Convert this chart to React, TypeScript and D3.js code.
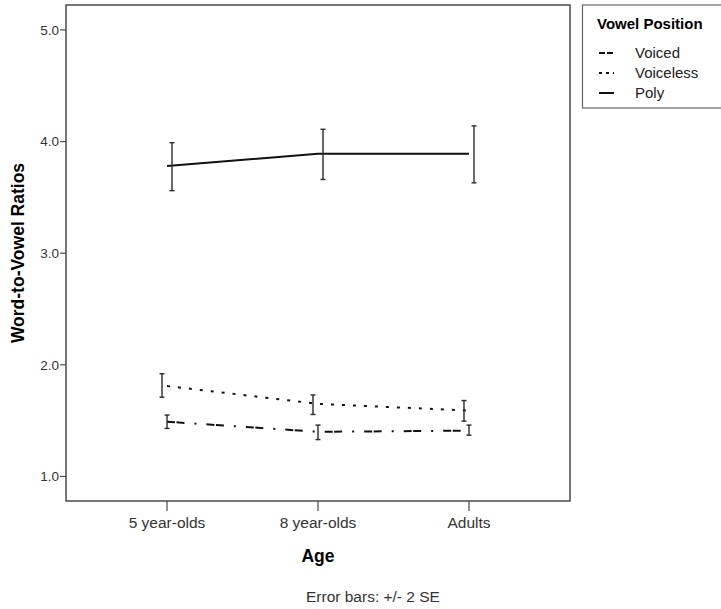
import React from 'react';
import * as d3 from 'd3';

const ages = ['5 year-olds', '8 year-olds', 'Adults'];
const seriesNames = ['Voiced', 'Voiceless', 'Poly'];

// means and +/- 2 SE bounds per series
const voicedMean = [1.49, 1.40, 1.41];
const voicedLow = [1.43, 1.33, 1.37];
const voicedHigh = [1.55, 1.46, 1.46];

const voicelessMean = [1.81, 1.65, 1.59];
const voicelessLow = [1.71, 1.555, 1.495];
const voicelessHigh = [1.92, 1.73, 1.68];

const polyMean = [3.78, 3.89, 3.89];
const polyLow = [3.56, 3.66, 3.63];
const polyHigh = [3.99, 4.11, 4.14];

const yTicks = [1.0, 2.0, 3.0, 4.0, 5.0];

const width = 721;
const height = 609;
const plot = { left: 66, right: 570, top: 5, bottom: 501 };
const font = 'Liberation Sans, Arial, sans-serif';

const series = [
  { name: seriesNames[0], mean: voicedMean, low: voicedLow, high: voicedHigh, dash: '8 1.5 8 10 2 10', dodge: 0 },
  { name: seriesNames[1], mean: voicelessMean, low: voicelessLow, high: voicelessHigh, dash: '3 8', dodge: -5 },
  { name: seriesNames[2], mean: polyMean, low: polyLow, high: polyHigh, dash: null, dodge: 5 },
];

const legendDash = ['6 2', '3 4', null];

export default function App() {
  const x = d3.scalePoint().domain(ages).range([plot.left, plot.right]).padding(0.669);
  const y = d3.scaleLinear().domain([0.78, 5.2232]).range([plot.bottom, plot.top]);
  const line = d3
    .line<number>()
    .x((_, i) => x(ages[i]) as number)
    .y((d) => y(d));

  return (
    <svg width={width} height={height} style={{ display: 'block', position: 'absolute', left: 0, top: 0 }} fontFamily={font}>
      <rect width={width} height={height} fill="#fff" />

      {/* series lines */}
      {series.map((s) => (
        <path
          key={s.name}
          d={line(s.mean) || ''}
          fill="none"
          stroke="#111"
          strokeWidth={2}
          strokeDasharray={s.dash || undefined}
        />
      ))}

      {/* error bars */}
      {series.map((s) =>
        ages.map((a, i) => {
          const cx = (x(a) as number) + s.dodge;
          return (
            <g key={s.name + a} stroke="#2a2a2a" strokeWidth={1.4}>
              <line x1={cx} x2={cx} y1={y(s.low[i])} y2={y(s.high[i])} />
              <line x1={cx - 2.5} x2={cx + 2.5} y1={y(s.low[i])} y2={y(s.low[i])} />
              <line x1={cx - 2.5} x2={cx + 2.5} y1={y(s.high[i])} y2={y(s.high[i])} />
            </g>
          );
        })
      )}

      {/* frame */}
      <rect
        x={plot.left}
        y={plot.top}
        width={plot.right - plot.left}
        height={plot.bottom - plot.top}
        fill="none"
        stroke="#4a4a4a"
        strokeWidth={1.5}
      />

      {/* y axis */}
      {yTicks.map((t) => (
        <g key={t}>
          <line x1={plot.left - 6} x2={plot.left} y1={y(t)} y2={y(t)} stroke="#4a4a4a" strokeWidth={1.2} />
          <text x={plot.left - 7} y={y(t)} dy="0.35em" textAnchor="end" fontSize={13.5} fill="#333">
            {d3.format('.1f')(t)}
          </text>
        </g>
      ))}
      <text
        transform={`translate(24,${(plot.top + plot.bottom) / 2}) rotate(-90)`}
        textAnchor="middle"
        fontSize={17.5}
        fontWeight="bold"
        fill="#000"
      >
        Word-to-Vowel Ratios
      </text>

      {/* x axis */}
      {ages.map((a) => (
        <g key={a}>
          <line x1={x(a)} x2={x(a)} y1={plot.bottom} y2={plot.bottom + 10} stroke="#4a4a4a" strokeWidth={1.2} />
          <text x={x(a)} y={528} textAnchor="middle" fontSize={15.5} fill="#333">
            {a}
          </text>
        </g>
      ))}
      <text x={(plot.left + plot.right) / 2} y={562} textAnchor="middle" fontSize={17.5} fontWeight="bold" fill="#000">
        Age
      </text>
      <text x={306} y={602} fontSize={15.5} fill="#333">
        Error bars:  +/- 2 SE
      </text>

      {/* legend */}
      <rect x={582.5} y={5} width={145} height={103} fill="#fff" stroke="#666" strokeWidth={1.2} />
      <text x={597} y={29} fontSize={15} fontWeight="bold" fill="#000">
        Vowel Position
      </text>
      {series.map((s, i) => (
        <g key={s.name}>
          <line
            x1={599}
            x2={614}
            y1={53 + i * 20}
            y2={53 + i * 20}
            stroke="#111"
            strokeWidth={2}
            strokeDasharray={legendDash[i] || undefined}
          />
          <text x={635} y={53 + i * 20} dy="0.35em" fontSize={15} fill="#222">
            {s.name}
          </text>
        </g>
      ))}
    </svg>
  );
}
